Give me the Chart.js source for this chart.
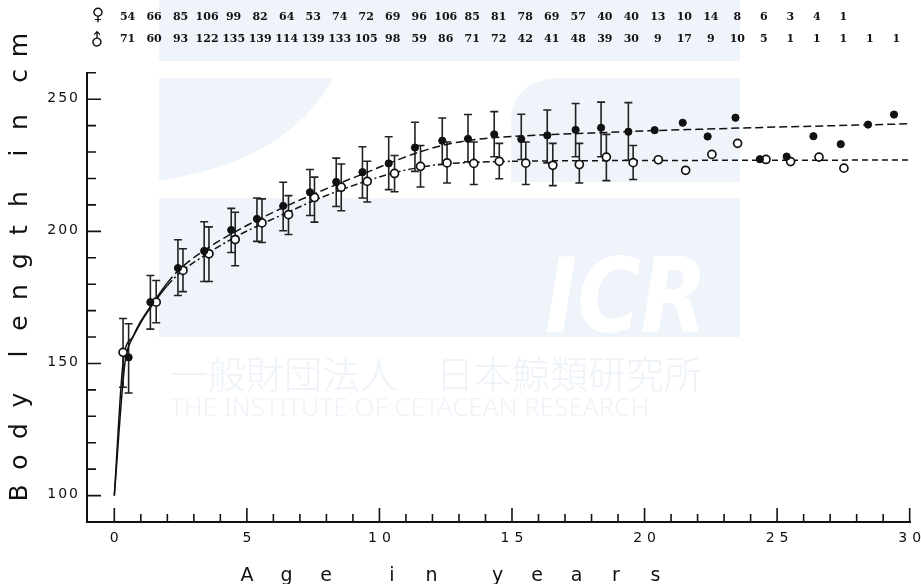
<!DOCTYPE html>
<html>
<head>
<meta charset="utf-8">
<script src="https://cdn.jsdelivr.net/npm/chart.js@4.4.0/dist/chart.umd.min.js"></script>
<style>
html, body { margin: 0; padding: 0; background: #fff; }
canvas { display: block; }
</style>
</head>
<body>
<canvas id="chart1" width="921" height="584"></canvas>
<script>
'use strict';
// sample sizes per age class (age i+0.5)
var FEMALE_N = [54, 66, 85, 106, 99, 82, 64, 53, 74, 72, 69, 96, 106, 85, 81, 78, 69, 57, 40, 40, 13, 10, 14, 8, 6, 3, 4, 1];
var MALE_N = [71, 60, 93, 122, 135, 139, 114, 139, 133, 105, 98, 59, 86, 71, 72, 42, 41, 48, 39, 30, 9, 17, 9, 10, 5, 1, 1, 1, 1, 1];

// mean body length (filled = female, open = male)
var FEMALE_AGE = [0.54, 1.36, 2.4, 3.39, 4.41, 5.38, 6.37, 7.38, 8.37, 9.36, 10.35, 11.34, 12.37, 13.34, 14.33, 15.35, 16.33, 17.4, 18.36, 19.39, 20.38, 21.44, 22.38, 23.43, 24.35, 25.36, 26.37, 27.4, 28.43, 29.41];
var FEMALE_LEN = [152.3, 173.2, 186.1, 192.6, 200.5, 204.7, 209.6, 214.8, 218.7, 222.4, 225.7, 231.7, 234.3, 235.0, 236.7, 234.9, 236.3, 238.4, 239.2, 237.7, 238.3, 241.1, 235.9, 243.0, 227.3, 228.3, 236.0, 233.0, 240.4, 244.2];
var FEMALE_LO = [138.8, 163, 175.7, 181, 192, 196.2, 200.2, 206, 209.4, 212.6, 215.8, 222.7, 225.3, 226.3, 228.2, 227.2, 225.9, 228.2, 228.2, 226.9];
var FEMALE_HI = [165, 183.3, 196.8, 203.6, 208.7, 212.6, 218.6, 223.4, 227.7, 232, 235.8, 241.3, 242.9, 244.2, 245.3, 244.3, 245.9, 248.4, 248.9, 248.7];

var MALE_AGE = [0.33, 1.58, 2.59, 3.57, 4.56, 5.57, 6.57, 7.55, 8.56, 9.54, 10.57, 11.55, 12.55, 13.56, 14.52, 15.52, 16.54, 17.54, 18.56, 19.57, 20.52, 21.55, 22.54, 23.51, 24.58, 25.51, 26.58, 27.52];
var MALE_LEN = [154.2, 173.2, 185.2, 191.5, 196.9, 203.2, 206.3, 212.8, 216.7, 218.9, 221.9, 224.6, 225.9, 225.7, 226.5, 225.8, 225.0, 225.3, 228.1, 226.0, 227.1, 223.1, 229.1, 233.3, 227.2, 226.4, 228.1, 223.9];
var MALE_LO = [141, 165.4, 177.2, 181, 187, 195.8, 198.8, 203.5, 207.8, 211.1, 215, 216.8, 218.3, 217.7, 219.9, 217.7, 217.3, 218.3, 219.2, 219.6];
var MALE_HI = [167, 181.4, 193.4, 201.7, 207.2, 212.3, 213.5, 220.5, 225.5, 226.5, 228.7, 232.5, 233.8, 233.8, 233.3, 233.8, 233.3, 233.3, 236.7, 232.5];

// fitted growth curves
var FEMALE_CURVE_X = [0, 0.4, 0.7, 1, 1.5, 2, 2.5, 3.5, 4.5, 5.5, 6.5, 7.5, 8.5, 9.5, 10.5, 11.5, 12.5, 13.5, 14.5, 16, 18, 20, 22, 24, 26, 28, 30];
var FEMALE_CURVE_Y = [100, 150, 160, 166, 173.5, 180.5, 186, 193.5, 199.5, 204.8, 209.6, 214, 218.2, 222.2, 226.3, 230, 232.8, 234.6, 235.6, 236.4, 237.2, 238, 238.6, 239.2, 239.7, 240.2, 240.7];
var MALE_CURVE_X = [0, 0.35, 0.7, 1, 1.5, 2, 2.5, 3.5, 4.5, 5.5, 6.5, 7.5, 8.5, 9.5, 10.5, 11.5, 12.5, 13.5, 15, 20, 25, 30];
var MALE_CURVE_Y = [100, 152, 160, 165.5, 173, 179.5, 184.5, 191.5, 197.5, 202.5, 207, 211.5, 215.5, 219, 222, 224.2, 225.5, 226.1, 226.5, 226.8, 226.9, 227];

var X_TICK_LABELS = [0, 5, 10, 15, 20, 25, 30];
var Y_TICK_LABELS = [100, 150, 200, 250];

var zip = function (xs, ys) {
    return ys.map(function (y, i) { return { x: xs[i], y: y }; });
};

var spaced = function (ctx, text, x, y, gap, align) {
    var w = 0, i;
    for (i = 0; i < text.length; i++) w += ctx.measureText(text[i]).width + (i ? gap : 0);
    var start = align === 'right' ? x - w : (align === 'center' ? x - w / 2 : x);
    ctx.textAlign = 'left';
    for (i = 0; i < text.length; i++) {
        ctx.fillText(text[i], start, y);
        start += ctx.measureText(text[i]).width + gap;
    }
};

var watermark = {
    id: 'watermark',
    beforeDraw: function (chart) {
        var ctx = chart.ctx;
        ctx.save();
        ctx.fillStyle = '#fff';
        ctx.fillRect(0, 0, chart.width, chart.height);
        ctx.fillStyle = '#eef4fa';
        // top band behind the counts
        ctx.fillRect(159, 0, 581, 61);
        // middle band: curved left piece and rounded right piece
        ctx.beginPath();
        ctx.moveTo(159, 78);
        ctx.lineTo(333, 78);
        ctx.quadraticCurveTo(290, 160, 159, 181);
        ctx.closePath();
        ctx.fill();
        ctx.beginPath();
        ctx.moveTo(740, 78);
        ctx.lineTo(740, 182);
        ctx.lineTo(511, 182);
        ctx.lineTo(511, 120);
        ctx.quadraticCurveTo(513, 80, 560, 78);
        ctx.closePath();
        ctx.fill();
        // lower band
        ctx.fillRect(159, 198, 581, 139);
        ctx.fillStyle = '#fff';
        ctx.font = 'italic bold 104px "DejaVu Sans"';
        ctx.textBaseline = 'alphabetic';
        ctx.fillText('ICR', 545, 332, 162);
        ctx.fillStyle = '#edf3f8';
        ctx.font = '300 38px "Noto Sans CJK JP"';
        ctx.textBaseline = 'middle';
        ctx.fillText('一般財団法人　日本鯨類研究所', 170, 374, 545);
        ctx.font = '300 26px "Noto Sans"';
        ctx.fillText('THE INSTITUTE OF CETACEAN RESEARCH', 170, 409, 543);
        ctx.restore();
    }
};

var errorBars = {
    id: 'errorBars',
    beforeDatasetsDraw: function (chart) {
        var ctx = chart.ctx, xs = chart.scales.x, ys = chart.scales.y;
        var draw = function (ages, lo, hi) {
            for (var i = 0; i < lo.length; i++) {
                var px = xs.getPixelForValue(ages[i]);
                var top = ys.getPixelForValue(hi[i]), bot = ys.getPixelForValue(lo[i]);
                ctx.beginPath();
                ctx.moveTo(px, top); ctx.lineTo(px, bot);
                ctx.moveTo(px - 4, top); ctx.lineTo(px + 4, top);
                ctx.moveTo(px - 4, bot); ctx.lineTo(px + 4, bot);
                ctx.stroke();
            }
        };
        ctx.save();
        ctx.strokeStyle = '#222';
        ctx.lineWidth = 1.6;
        draw(FEMALE_AGE, FEMALE_LO, FEMALE_HI);
        draw(MALE_AGE, MALE_LO, MALE_HI);
        ctx.restore();
    }
};

var axesAndText = {
    id: 'axesAndText',
    afterDraw: function (chart) {
        var ctx = chart.ctx, xs = chart.scales.x, ys = chart.scales.y, a = chart.chartArea;
        var v, p, i;
        ctx.save();
        ctx.strokeStyle = '#111';
        ctx.fillStyle = '#111';
        ctx.lineWidth = 2;
        ctx.beginPath();
        ctx.moveTo(a.left, a.top);
        ctx.lineTo(a.left, a.bottom);
        ctx.lineTo(a.right, a.bottom);
        ctx.stroke();

        ctx.lineWidth = 1.6;
        ctx.beginPath();
        for (v = 0; v <= 30; v++) {
            p = xs.getPixelForValue(v);
            ctx.moveTo(p, a.bottom);
            ctx.lineTo(p, a.bottom - (v % 5 === 0 ? 14 : 8));
        }
        for (v = 100; v <= 260; v += 10) {
            p = ys.getPixelForValue(v);
            ctx.moveTo(a.left, p);
            ctx.lineTo(a.left + (v % 50 === 0 ? 14 : 9), p);
        }
        ctx.stroke();

        ctx.font = '14px "DejaVu Sans"';
        ctx.textBaseline = 'middle';
        X_TICK_LABELS.forEach(function (t) {
            spaced(ctx, String(t), xs.getPixelForValue(t), 538, 5, 'center');
        });
        Y_TICK_LABELS.forEach(function (t) {
            spaced(ctx, String(t), 78, ys.getPixelForValue(t) - 1, 2, 'right');
        });

        // axis titles with wide letter spacing
        ctx.font = '19px "DejaVu Sans"';
        ctx.textAlign = 'center';
        var xt = 'Age in years', xp = 247;
        for (i = 0; i < xt.length; i++) {
            if (xt[i] === ' ') { xp += 66 - 39.5; continue; }
            ctx.fillText(xt[i], xp, 576);
            xp += 39.5;
        }
        ctx.font = '25px "DejaVu Sans"';
        var yt = 'Body length in cm', yp = 493;
        for (i = 0; i < yt.length; i++) {
            if (yt[i] === ' ') { yp -= 46 - 31; continue; }
            ctx.save();
            ctx.translate(20, yp);
            ctx.rotate(-Math.PI / 2);
            ctx.fillText(yt[i], 0, 0);
            ctx.restore();
            yp -= 31;
        }

        // sample size rows
        ctx.font = 'bold 11px "DejaVu Serif"';
        FEMALE_N.forEach(function (n, k) {
            ctx.fillText(String(n), xs.getPixelForValue(k + 0.5), 17);
        });
        MALE_N.forEach(function (n, k) {
            ctx.fillText(String(n), xs.getPixelForValue(k + 0.5), 39);
        });
        ctx.font = 'bold 17px "DejaVu Sans"';
        ctx.fillText('\u2640', 98, 16);
        ctx.save();
        ctx.translate(98, 41);
        ctx.rotate(-Math.PI / 4);
        ctx.fillText('\u2642', 0, 0);
        ctx.restore();
        ctx.restore();
    }
};

var ctx = document.getElementById('chart1').getContext('2d');
new Chart(ctx, {
    type: 'scatter',
    data: {
        datasets: [{
            label: 'female',
            data: zip(FEMALE_AGE, FEMALE_LEN),
            pointRadius: 3.6,
            pointBackgroundColor: '#111',
            pointBorderColor: '#111',
            pointBorderWidth: 1,
            order: 0
        }, {
            label: 'male',
            data: zip(MALE_AGE, MALE_LEN),
            pointRadius: 4,
            pointBackgroundColor: '#fff',
            pointBorderColor: '#111',
            pointBorderWidth: 1.7,
            order: 0
        }, {
            label: 'female curve',
            data: zip(FEMALE_CURVE_X, FEMALE_CURVE_Y),
            showLine: true,
            pointRadius: 0,
            borderColor: '#111',
            borderWidth: 1.5,
            cubicInterpolationMode: 'monotone',
            segment: {
                borderDash: function (c) { return c.p0.parsed.x < 2 ? [] : [8, 4]; }
            },
            order: 1
        }, {
            label: 'male curve',
            data: zip(MALE_CURVE_X, MALE_CURVE_Y),
            showLine: true,
            pointRadius: 0,
            borderColor: '#111',
            borderWidth: 1.5,
            cubicInterpolationMode: 'monotone',
            segment: {
                borderDash: function (c) {
                    if (c.p0.parsed.x < 2) return [];
                    return c.p0.parsed.x < 14 ? [7, 3, 2, 3] : [6, 4];
                }
            },
            order: 1
        }]
    },
    options: {
        responsive: false,
        animation: false,
        layout: { padding: { left: 87, right: 10, top: 72, bottom: 62 } },
        scales: {
            x: { type: 'linear', min: -1.03, max: 30.05, display: false },
            y: { type: 'linear', min: 90, max: 260.3, display: false }
        },
        plugins: {
            legend: { display: false },
            tooltip: { enabled: false }
        }
    },
    plugins: [watermark, errorBars, axesAndText]
});
</script>
</body>
</html>
